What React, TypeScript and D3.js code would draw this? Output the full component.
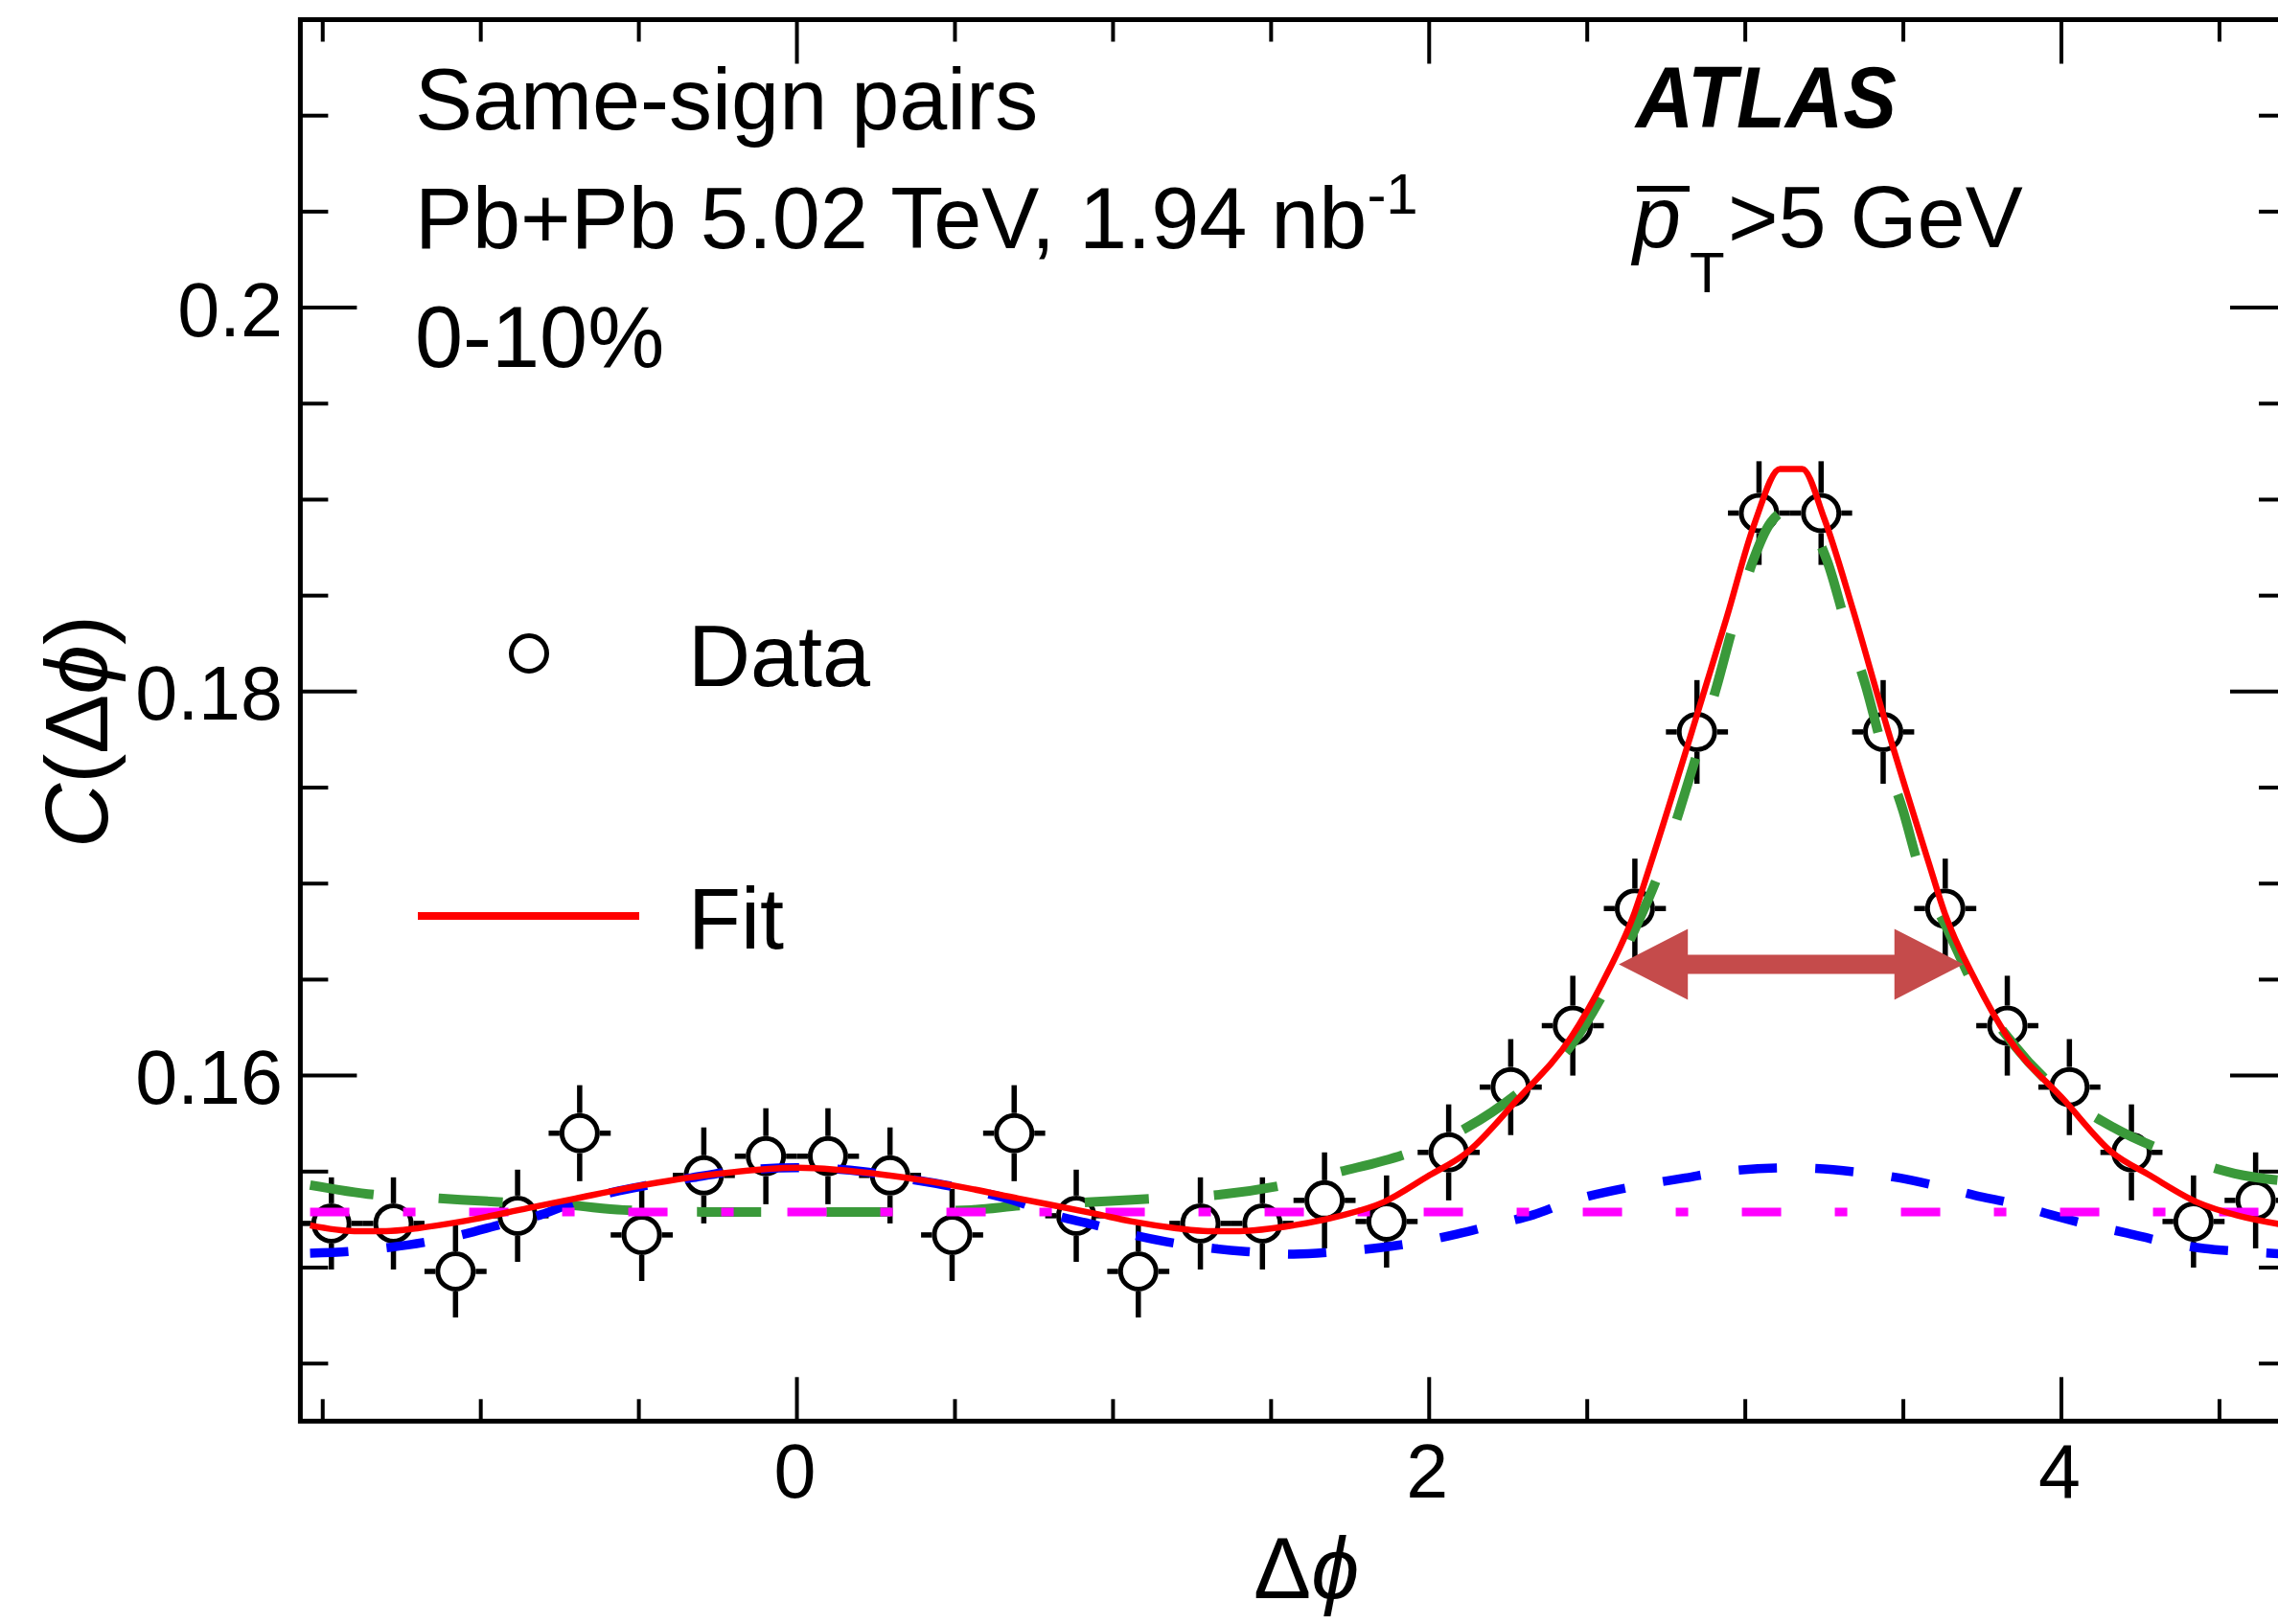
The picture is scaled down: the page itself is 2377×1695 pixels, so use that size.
import React from 'react';
import * as d3 from 'd3';

const W = 2377;
const H = 1695;

// ---- data (bin centres in Δφ, correlation values, statistical errors) ----
const dphi = [
  -1.4726, -1.2763, -1.0799, -0.8836, -0.6872, -0.4909, -0.2945, -0.0982,
  0.0982, 0.2945, 0.4909, 0.6872, 0.8836, 1.0799, 1.2763, 1.4726,
  1.669, 1.8653, 2.0617, 2.258, 2.4544, 2.6507, 2.8471, 3.0434,
  3.2398, 3.4361, 3.6325, 3.8288, 4.0252, 4.2215, 4.4179, 4.6143,
];
const corr = [
  0.1523, 0.1523, 0.1498, 0.1527, 0.157, 0.1517, 0.1548, 0.1558,
  0.1558, 0.1548, 0.1517, 0.157, 0.1527, 0.1498, 0.1523, 0.1523,
  0.1535, 0.1524, 0.156, 0.1594, 0.1626, 0.1687, 0.1779, 0.1893,
  0.1893, 0.1779, 0.1687, 0.1626, 0.1594, 0.156, 0.1524, 0.1535,
];
const corrErr = [
  0.0024, 0.0024, 0.0024, 0.0024, 0.0025, 0.0024, 0.0025, 0.0025,
  0.0025, 0.0025, 0.0024, 0.0025, 0.0024, 0.0024, 0.0024, 0.0024,
  0.0025, 0.0024, 0.0025, 0.0025, 0.0026, 0.0026, 0.0027, 0.0027,
  0.0027, 0.0027, 0.0026, 0.0026, 0.0025, 0.0025, 0.0024, 0.0025,
];
const binHalfWidth = 0.0982;

// ---- fit curves ----
const fitX = [
  -1.54, -1.4, -1.3, -1.2, -1.06, -0.85, -0.7, -0.55, -0.29, 0, 0.29, 0.52, 0.7, 0.945, 1.06, 1.2, 1.3, 1.4,
  1.571, 1.72, 1.855, 2.0, 2.12, 2.276, 2.449, 2.55, 2.65, 2.7, 2.84, 2.94, 3.03, 3.11, 3.18, 3.25,
  3.34, 3.44, 3.58, 3.63, 3.73, 3.83, 4.01, 4.16, 4.28, 4.43, 4.56, 4.712,
];
const fitY = [
  0.1522, 0.1519, 0.1519, 0.15205, 0.1524, 0.1531, 0.1536, 0.1541, 0.1548, 0.1552, 0.1548, 0.1542, 0.1536, 0.1528, 0.1524, 0.15205, 0.1519, 0.1519,
  0.1522, 0.1527, 0.1534, 0.1548, 0.156, 0.1587, 0.162, 0.1649, 0.1685, 0.171, 0.1784, 0.1838, 0.1888, 0.1916, 0.1916, 0.189,
  0.1843, 0.1786, 0.1711, 0.1685, 0.1649, 0.162, 0.1587, 0.156, 0.1548, 0.1534, 0.1527, 0.1522,
];

const jetX = [
  -1.54, -1.34, -1.13, -0.92, -0.72, -0.55, -0.3, 0, 0.3, 0.55, 0.72, 0.92, 1.13, 1.34, 1.54,
  1.72, 1.94, 2.12, 2.29, 2.45, 2.555, 2.65, 2.73, 2.79, 2.855, 2.91, 2.966, 3.022, 3.08,
  3.142, 3.2, 3.259, 3.32, 3.381, 3.438, 3.499, 3.554, 3.64, 3.735, 3.85, 3.997, 4.164,
  4.355, 4.548, 4.712,
];
const jetY = [
  0.1543, 0.1538, 0.1536, 0.1534, 0.15325, 0.153, 0.1529, 0.1529, 0.1529, 0.153, 0.15325, 0.1534, 0.1536, 0.1538, 0.1543,
  0.155, 0.156, 0.1573, 0.1592, 0.1616, 0.1644, 0.1676, 0.1707, 0.1737, 0.1772, 0.1803, 0.1837, 0.1867, 0.1888,
  0.1895, 0.1888, 0.1868, 0.1834, 0.1803, 0.1768, 0.1738, 0.1706, 0.1676, 0.1643, 0.1616, 0.1591, 0.1573,
  0.1559, 0.1549, 0.1545,
];

const flowX = [
  -1.54, -1.42, -1.29, -1.17, -1.05, -0.935, -0.81, -0.7, -0.5, -0.335, -0.208, 0, 0.208, 0.335, 0.5,
  0.7, 0.81, 0.935, 1.05, 1.17, 1.29, 1.42, 1.571, 1.72, 1.85, 1.97, 2.09, 2.21, 2.33, 2.44,
  2.64, 2.81, 2.93, 3.142, 3.364, 3.487, 3.608, 3.729, 3.845, 3.967, 4.083, 4.209, 4.325,
  4.45, 4.568, 4.712,
];
const flowY = [
  0.15075, 0.15084, 0.15105, 0.15134, 0.15175, 0.15225, 0.15275, 0.15342, 0.1542, 0.15467, 0.155, 0.1552, 0.155, 0.15467, 0.1542,
  0.15342, 0.15275, 0.15225, 0.15175, 0.15134, 0.15105, 0.15084, 0.1507, 0.15084, 0.15105, 0.15134, 0.15175, 0.15225, 0.15275, 0.15342,
  0.1542, 0.15467, 0.155, 0.1552, 0.15495, 0.15467, 0.15425, 0.15375, 0.15334, 0.15275, 0.15225, 0.15179, 0.15134,
  0.151, 0.15084, 0.1507,
];

const pedestalX = [-1.54, 4.712];
const pedestalY = [0.1529, 0.1529];

// width marker (double arrow)
const arrowX = [2.6, 3.69];
const arrowY = 0.1658;

// ---- axes ----
const xMajorTicks = [0, 2, 4];
const xTickLabels = ['0', '2', '4'];
const xMinorTicks = [-1.5, -1, -0.5, 0.5, 1, 1.5, 2.5, 3, 3.5, 4.5];
const yMajorTicks = [0.16, 0.18, 0.2];
const yTickLabels = ['0.16', '0.18', '0.2'];
const yMinorTicks = [0.145, 0.15, 0.155, 0.165, 0.17, 0.175, 0.185, 0.19, 0.195, 0.205, 0.21];

const FONT = '"Liberation Sans", Arial, Helvetica, sans-serif';

export default function App() {
  React.useEffect(() => {
    document.body.style.margin = '0';
    document.body.style.overflow = 'hidden';
  }, []);

  const left = 313.4;
  const right = 2386;
  const top = 20.5;
  const bottom = 1483.3;

  const x = d3.scaleLinear().domain([-Math.PI / 2, 1.5 * Math.PI]).range([left, right]);
  const y = d3.scaleLinear().domain([0.142, 0.215]).range([bottom, top]);

  const mkLine = (xs: number[], ys: number[]) =>
    d3
      .line<number>()
      .x((_, i) => x(xs[i]))
      .y((d) => y(d))
      .curve(d3.curveMonotoneX)(ys) || '';

  const rOut = 21;
  const markerR = 18.5;

  // arrow geometry
  const ax0 = x(arrowX[0]);
  const ax1 = x(arrowX[1]);
  const ay = y(arrowY);
  const headL = 72;
  const headH = 37;
  const shaftH = 10;
  const arrowPath = [
    `M${ax0},${ay}`,
    `L${ax0 + headL},${ay - headH}`,
    `L${ax0 + headL},${ay - shaftH}`,
    `L${ax1 - headL},${ay - shaftH}`,
    `L${ax1 - headL},${ay - headH}`,
    `L${ax1},${ay}`,
    `L${ax1 - headL},${ay + headH}`,
    `L${ax1 - headL},${ay + shaftH}`,
    `L${ax0 + headL},${ay + shaftH}`,
    `L${ax0 + headL},${ay + headH}`,
    'Z',
  ].join(' ');

  return (
    <svg
      width={W}
      height={H}
      viewBox={`0 0 ${W} ${H}`}
      style={{ position: 'absolute', left: 0, top: 0, background: '#fff' }}
      fontFamily={FONT}
    >
      <rect x={0} y={0} width={W} height={H} fill="#fff" />

      {/* ticks */}
      <g stroke="#000" strokeWidth={4}>
        {xMajorTicks.map((t) => (
          <g key={'xM' + t}>
            <line x1={x(t)} x2={x(t)} y1={bottom} y2={bottom - 46} />
            <line x1={x(t)} x2={x(t)} y1={top} y2={top + 46} />
          </g>
        ))}
        {xMinorTicks.map((t) => (
          <g key={'xm' + t}>
            <line x1={x(t)} x2={x(t)} y1={bottom} y2={bottom - 23} />
            <line x1={x(t)} x2={x(t)} y1={top} y2={top + 23} />
          </g>
        ))}
        {yMajorTicks.map((t) => (
          <g key={'yM' + t}>
            <line x1={left} x2={left + 59} y1={y(t)} y2={y(t)} />
            <line x1={right} x2={right - 59} y1={y(t)} y2={y(t)} />
          </g>
        ))}
        {yMinorTicks.map((t) => (
          <g key={'ym' + t}>
            <line x1={left} x2={left + 29} y1={y(t)} y2={y(t)} />
            <line x1={right} x2={right - 29} y1={y(t)} y2={y(t)} />
          </g>
        ))}
      </g>

      {/* tick labels */}
      <g fontSize={79} fill="#000">
        {yMajorTicks.map((t, i) => (
          <text key={'yl' + t} x={295} y={y(t) + 29.5} textAnchor="end">
            {yTickLabels[i]}
          </text>
        ))}
        {xMajorTicks.map((t, i) => (
          <text key={'xl' + t} x={x(t) - 2} y={1563} textAnchor="middle">
            {xTickLabels[i]}
          </text>
        ))}
      </g>

      {/* axis titles */}
      <text x={1308} y={1668} fontSize={90}>
        Δ<tspan fontStyle="italic">ϕ</tspan>
      </text>
      <text transform="translate(112,885) rotate(-90)" fontSize={93}>
        <tspan fontStyle="italic">C</tspan>(Δ<tspan fontStyle="italic">ϕ</tspan>)
      </text>

      {/* data points */}
      <g stroke="#000" fill="none">
        {dphi.map((d, i) => {
          const cx = x(d);
          const cy = y(corr[i]);
          const yTop = y(corr[i] + corrErr[i]);
          const yBot = y(corr[i] - corrErr[i]);
          const xl = x(d - binHalfWidth);
          const xr = x(d + binHalfWidth);
          return (
            <g key={'p' + i}>
              <line x1={cx} x2={cx} y1={cy - rOut} y2={yTop} strokeWidth={5.5} />
              <line x1={cx} x2={cx} y1={cy + rOut} y2={yBot} strokeWidth={5.5} />
              <line x1={cx - rOut} x2={xl} y1={cy} y2={cy} strokeWidth={5.5} />
              <line x1={cx + rOut} x2={xr} y1={cy} y2={cy} strokeWidth={5.5} />
              <circle cx={cx} cy={cy} r={markerR} strokeWidth={5} />
            </g>
          );
        })}
      </g>

      {/* curves */}
      <path d={mkLine(jetX, jetY)} fill="none" stroke="#3a993a" strokeWidth={10} strokeDasharray="67 68" />
      <path d={mkLine(flowX, flowY)} fill="none" stroke="#0000ff" strokeWidth={9.5} strokeDasharray="40 40" />
      <path d={mkLine(pedestalX, pedestalY)} fill="none" stroke="#ff00ff" strokeWidth={9} strokeDasharray="41 56 13 56" />
      <path d={mkLine(fitX, fitY)} fill="none" stroke="#ff0000" strokeWidth={6.5} />

      {/* width arrow */}
      <path d={arrowPath} fill="#c54b4b" />

      {/* frame */}
      <rect x={left} y={top} width={right - left} height={bottom - top} fill="none" stroke="#000" strokeWidth={5} />

      {/* texts */}
      <g fontSize={90} fill="#000">
        <text x={433} y={135}>Same-sign pairs</text>
        <text x={433} y={259}>
          Pb+Pb 5.02 TeV, 1.94 nb<tspan fontSize={60} dy={-36}>-1</tspan>
        </text>
        <text x={433} y={383}>0-10%</text>
        <text x={1707} y={133} fontWeight="bold" fontStyle="italic" textLength={272} lengthAdjust="spacingAndGlyphs">
          ATLAS
        </text>
        <text x={1704} y={258} fontStyle="italic">p</text>
        <text x={1763} y={305} fontSize={60}>T</text>
        <text x={1803} y={258}>&gt;5 GeV</text>
      </g>
      <line x1={1708} x2={1763} y1={197} y2={197} stroke="#000" strokeWidth={6} />

      {/* legend */}
      <circle cx={552} cy={682} r={markerR} fill="none" stroke="#000" strokeWidth={5} />
      <text x={718} y={716} fontSize={90}>Data</text>
      <line x1={436} x2={667} y1={956} y2={956} stroke="#ff0000" strokeWidth={8} />
      <text x={718} y={990} fontSize={90}>Fit</text>
    </svg>
  );
}
